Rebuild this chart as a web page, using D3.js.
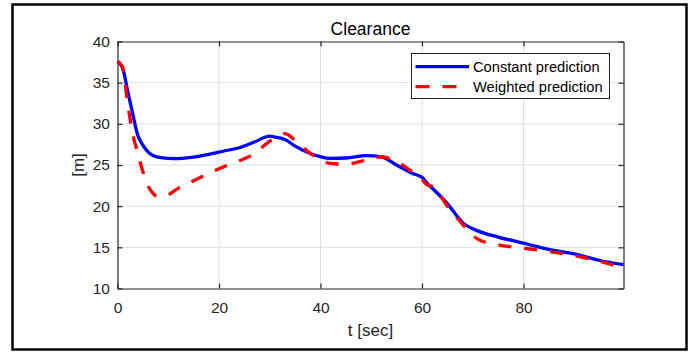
<!DOCTYPE html>
<html>
<head>
<meta charset="utf-8">
<script src="https://cdn.jsdelivr.net/npm/d3@7"></script>
<style>
  body { margin: 0; background: #fff; }
  svg text { font-family: "Liberation Sans", Arial, sans-serif; }
</style>
</head>
<body>
<div id="chart"></div>
<script>
(function (d3) {

  // time samples [sec]
  var timeSec = [0, 1, 2, 3, 4, 5, 6, 7, 8, 10, 12, 15, 18, 21, 24, 27, 30, 31, 33, 35,
    38, 42, 45, 49, 52, 55, 58, 60, 61, 62, 63, 65, 68, 71, 75, 80, 85, 90, 95, 99.7];

  // clearance [m]
  var constantPred = [37.6, 36.8, 34.0, 31.2, 28.6, 27.4, 26.6, 26.15, 25.95, 25.8, 25.78, 25.95, 26.3, 26.7, 27.1, 27.8, 28.5, 28.4, 28.1, 27.3,
    26.4, 25.8, 25.85, 26.15, 26.0, 25.0, 24.0, 23.5, 22.8, 22.2, 21.6, 20.3, 18.0, 17.0, 16.25, 15.5, 14.75, 14.2, 13.4, 12.9];
  var weightedPred = [37.6, 36.9, 32.5, 28.8, 26.4, 24.2, 22.5, 21.55, 21.15, 21.4, 22.2, 23.1, 24.0, 24.8, 25.5, 26.4, 27.9, 28.3, 28.8, 28.0,
    26.4, 25.2, 25.1, 25.6, 26.0, 25.4, 24.2, 23.2, 22.6, 22.4, 21.8, 20.0, 17.8, 16.0, 15.3, 14.9, 14.5, 14.0, 13.3, 12.5];

  var seriesNames = ["Constant prediction", "Weighted prediction"];
  var xTicks = [0, 20, 40, 60, 80];
  var yTicks = [10, 15, 20, 25, 30, 35, 40];

  var W = 698, H = 352;
  var left = 117.5, right = 623.5, top = 41.5, bottom = 288.5;
  var axisColor = "#262626";

  var svg = d3.select("#chart")
      .append("svg")
      .attr("width", W)
      .attr("height", H);

  // outer frame
  svg.append("rect")
      .attr("x", 12.5).attr("y", 4.5)
      .attr("width", 674).attr("height", 345)
      .attr("fill", "white")
      .attr("stroke", "black")
      .attr("stroke-width", 2.5);

  var x = d3.scaleLinear().domain([0, 99.7]).range([left, right]);
  var y = d3.scaleLinear().domain([10, 40]).range([bottom, top]);

  // grid
  svg.append("g").selectAll("line")
      .data(xTicks.slice(1))
      .enter().append("line")
      .attr("x1", function (d) { return x(d); })
      .attr("x2", function (d) { return x(d); })
      .attr("y1", top).attr("y2", bottom)
      .attr("stroke", "#dfdfdf").attr("stroke-width", 1);

  svg.append("g").selectAll("line")
      .data(yTicks.slice(1, -1))
      .enter().append("line")
      .attr("y1", function (d) { return y(d); })
      .attr("y2", function (d) { return y(d); })
      .attr("x1", left).attr("x2", right)
      .attr("stroke", "#dfdfdf").attr("stroke-width", 1);

  // axes (MATLAB box style, ticks inside)
  var xAxis = svg.append("g")
      .attr("transform", "translate(0," + bottom + ")")
      .call(d3.axisBottom(x).tickValues(xTicks).tickSizeInner(-5).tickSizeOuter(0).tickPadding(13));
  var xTop = svg.append("g")
      .attr("transform", "translate(0," + top + ")")
      .call(d3.axisTop(x).tickValues(xTicks).tickSizeInner(-5).tickSizeOuter(0).tickFormat(""));
  var yAxis = svg.append("g")
      .attr("transform", "translate(" + left + ",0)")
      .call(d3.axisLeft(y).tickValues(yTicks).tickSizeInner(-5).tickSizeOuter(0).tickPadding(7.5));
  var yRight = svg.append("g")
      .attr("transform", "translate(" + right + ",0)")
      .call(d3.axisRight(y).tickValues(yTicks).tickSizeInner(-5).tickSizeOuter(0).tickFormat(""));

  [xAxis, xTop, yAxis, yRight].forEach(function (g) {
    g.select(".domain").attr("stroke", axisColor).attr("stroke-width", 1.2);
    g.selectAll(".tick line").attr("stroke", axisColor).attr("stroke-width", 1.2);
    g.selectAll("text")
        .attr("fill", axisColor)
        .style("font-family", "'Liberation Sans', Arial, sans-serif")
        .style("font-size", "15.5px");
  });

  // lines
  var lineConst = d3.line()
      .x(function (d, i) { return x(timeSec[i]); })
      .y(function (d) { return y(d); })
      .curve(d3.curveMonotoneX);

  svg.append("path")
      .datum(constantPred)
      .attr("d", lineConst)
      .attr("fill", "none")
      .attr("stroke", "#0000ff")
      .attr("stroke-width", 3.3);

  svg.append("path")
      .datum(weightedPred)
      .attr("d", lineConst)
      .attr("fill", "none")
      .attr("stroke", "#ff0000")
      .attr("stroke-width", 3.3)
      .attr("stroke-dasharray", "13,13");

  // title and labels
  svg.append("text")
      .attr("x", (left + right) / 2)
      .attr("y", 35)
      .attr("text-anchor", "middle")
      .attr("font-size", "17.5px")
      .attr("fill", "black")
      .text("Clearance");

  svg.append("text")
      .attr("x", (left + right) / 2)
      .attr("y", 336)
      .attr("text-anchor", "middle")
      .attr("font-size", "17px")
      .attr("fill", axisColor)
      .text("t [sec]");

  svg.append("text")
      .attr("transform", "translate(84," + ((top + bottom) / 2) + ") rotate(-90)")
      .attr("text-anchor", "middle")
      .attr("font-size", "17px")
      .attr("fill", axisColor)
      .text("[m]");

  // legend
  var legend = svg.append("g");
  legend.append("rect")
      .attr("x", 411.5).attr("y", 53.5)
      .attr("width", 198).attr("height", 45)
      .attr("fill", "white")
      .attr("stroke", axisColor)
      .attr("stroke-width", 1);

  var legendRows = legend.selectAll(".row")
      .data(seriesNames)
      .enter().append("g")
      .attr("class", "row")
      .attr("transform", function (d, i) { return "translate(0," + (66.7 + i * 20) + ")"; });

  legendRows.append("line")
      .attr("x1", 415.5).attr("x2", 469)
      .attr("y1", 0).attr("y2", 0)
      .attr("stroke", function (d, i) { return i === 0 ? "#0000ff" : "#ff0000"; })
      .attr("stroke-width", 3.3)
      .attr("stroke-dasharray", function (d, i) { return i === 0 ? null : "14,13"; });

  legendRows.append("text")
      .attr("x", 473)
      .attr("y", 5)
      .attr("font-size", "14.7px")
      .attr("fill", "black")
      .text(function (d) { return d; });

})(window.d3);
</script>
</body>
</html>
